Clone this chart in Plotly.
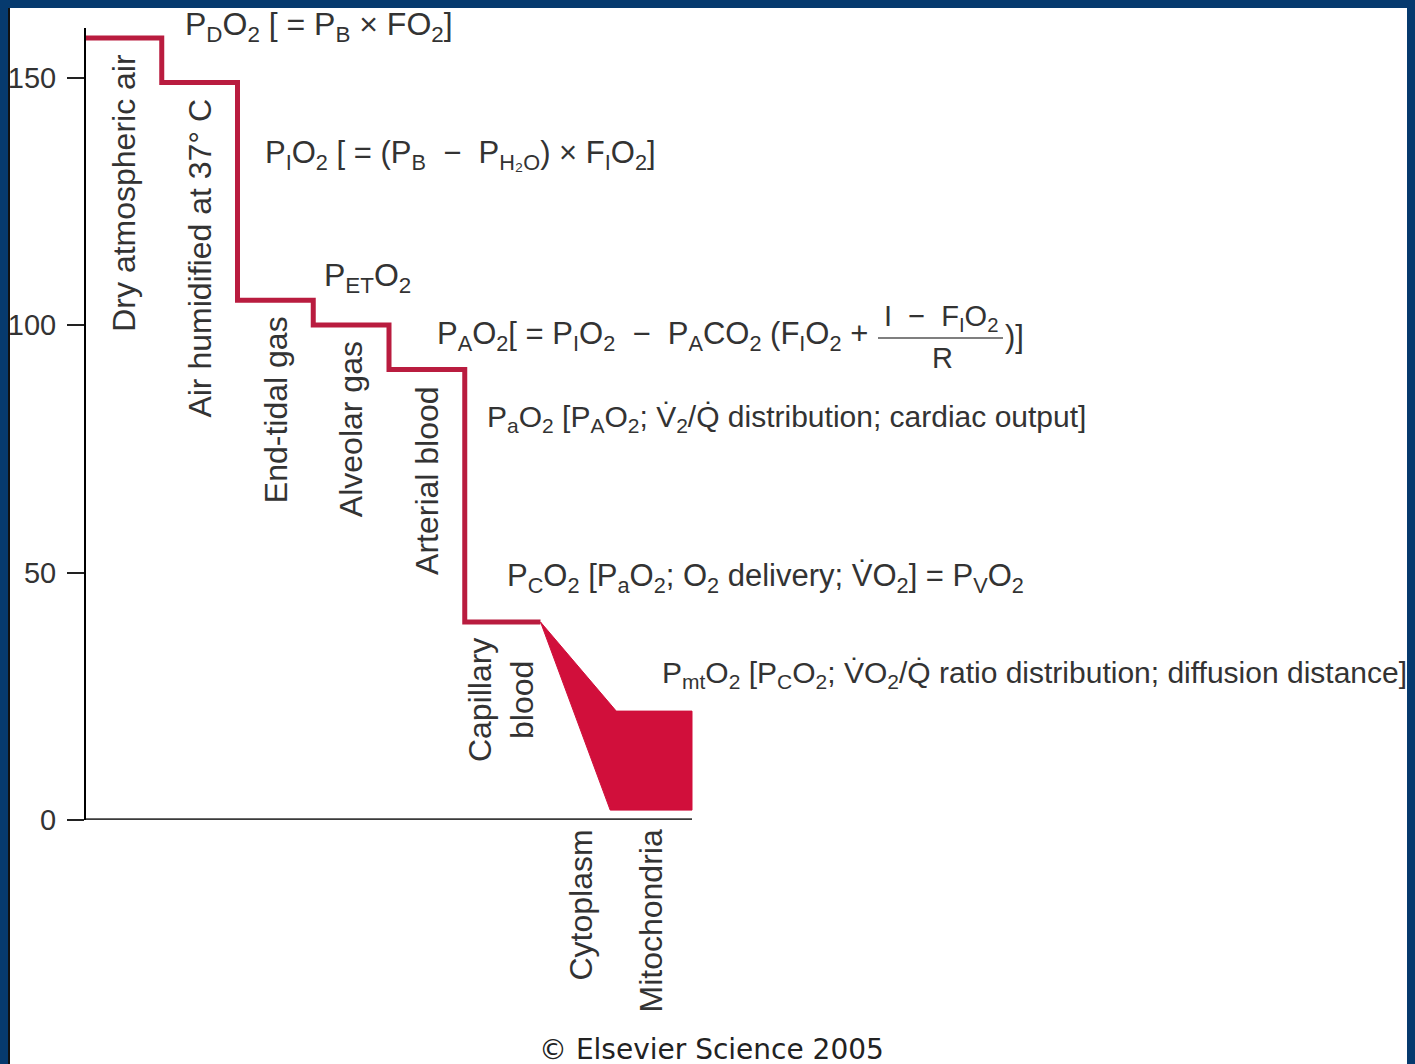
import plotly.graph_objects as go

# ---------------- data ----------------
stages = ["Dry atmospheric air", "Air humidified at 37° C", "End-tidal gas",
          "Alveolar gas", "Arterial blood", "Capillary<br>blood",
          "Cytoplasm", "Mitochondria"]
step_po2 = [158, 149, 105, 100, 91, 40]          # mmHg for first six stages
mito_high = 22
mito_low = 2
cyto_low_start = 6.92                           # where the lower edge reaches the floor
y_ticks = [0, 50, 100, 150]

formula_labels = [
    "P<sub>D</sub>O<sub>2</sub> [ = P<sub>B</sub> × FO<sub>2</sub>]",
    "P<sub>I</sub>O<sub>2</sub> [ = (P<sub>B</sub>  −  P<sub>H₂O</sub>) × F<sub>I</sub>O<sub>2</sub>]",
    "P<sub>ET</sub>O<sub>2</sub>",
    "P<sub>A</sub>O<sub>2</sub>[ = P<sub>I</sub>O<sub>2</sub>  −  P<sub>A</sub>CO<sub>2</sub> (F<sub>I</sub>O<sub>2</sub> +",
    "P<sub>a</sub>O<sub>2</sub> [P<sub>A</sub>O<sub>2</sub>; V\u0307<sub>2</sub>/Q\u0307 distribution; cardiac output]",
    "P<sub>C</sub>O<sub>2</sub> [P<sub>a</sub>O<sub>2</sub>; O<sub>2</sub> delivery; V\u0307O<sub>2</sub>] = P<sub>V</sub>O<sub>2</sub>",
    "P<sub>mt</sub>O<sub>2</sub> [P<sub>C</sub>O<sub>2</sub>; V\u0307O<sub>2</sub>/Q\u0307 ratio distribution; diffusion distance]",
]
frac_num = "I  −  F<sub>I</sub>O<sub>2</sub>"
frac_den = "R"
frac_close = ")]"
credit = "© Elsevier Science 2005"

# ---------------- geometry (page pixels; page has an 8px body margin) ----------------
OFF = 8
W, H = 1415 - OFF, 1064 - OFF
L, T = 86 - OFF, 20
ZERO_Y = 820 - OFF
B = H - ZERO_Y
R = 0
ppu_x = 75.75
ymax = 160
ppu_y = (ZERO_Y - T) / ymax
xmax = (W - L - R) / ppu_x


def ux(px):
    return (px - OFF - L) / ppu_x


def vy(py):
    return (ZERO_Y - (py - OFF)) / ppu_y


def paper_x(px):
    return (px - OFF - L) / (W - L - R)


def paper_y(py):
    return (ZERO_Y - (py - OFF)) / (ZERO_Y - T)


LINE = "#b91c3f"
FILL = "#d10f3b"
TXT = "#333333"
NAVY = "#063a6e"
FONT = "Liberation Sans, Arial, sans-serif"
ROT_FS = 32
label_fs = [32, 31, 32, 31, 30, 31, 30]

fig = go.Figure()

# capillary -> cytoplasm -> mitochondria filled region
n = len(step_po2)
poly_x = [n, n + 1, n + 2, n + 2, cyto_low_start, n]
poly_y = [step_po2[-1], mito_high, mito_high, mito_low, mito_low, step_po2[-1]]
fig.add_trace(go.Scatter(x=poly_x, y=poly_y, mode="lines", fill="toself",
                         fillcolor=FILL, line=dict(color=FILL, width=1),
                         hoverinfo="skip", showlegend=False))

# step line
sx = list(range(n + 1))
sy = step_po2 + [step_po2[-1]]
fig.add_trace(go.Scatter(x=sx, y=sy, mode="lines", line_shape="hv",
                         line=dict(color=LINE, width=5),
                         hoverinfo="skip", showlegend=False))

# x baseline
fig.add_shape(type="line", xref="x", yref="y", x0=0, x1=n + 2, y0=0, y1=0,
              line=dict(color="#3a3a3a", width=3.5))

# frame lines
fig.add_shape(type="line", xref="paper", yref="paper",
              x0=paper_x(9), x1=paper_x(9), y0=paper_y(1070), y1=paper_y(0),
              line=dict(color="#111111", width=2), layer="above")
fig.add_shape(type="line", xref="paper", yref="paper",
              x0=paper_x(1413), x1=paper_x(1413), y0=paper_y(1070), y1=paper_y(0),
              line=dict(color="#111111", width=2.5), layer="above")

# stage labels (rotated)
label_levels = step_po2 + [0, 0]
label_x = [i + 0.5 for i in range(len(stages))]
label_x[5] = 5.48
label_x[6] = ux(580)
label_x[7] = ux(650)
for i, s in enumerate(stages):
    fig.add_annotation(x=label_x[i], y=label_levels[i], xref="x", yref="y",
                       text=s, textangle=-90, showarrow=False,
                       xanchor="center", yanchor="top", yshift=-14 if i < 6 else -8,
                       font=dict(family=FONT, size=ROT_FS, color=TXT))

# formula labels
fpos = [(183, None), (263, 155), (322, 277), (435, 336), (485, 418), (505, 578), (660, 674)]
for i, (lab, (px, py)) in enumerate(zip(formula_labels, fpos)):
    if py is None:
        fig.add_annotation(x=ux(px), y=step_po2[0], xref="x", yref="y", text=lab,
                           showarrow=False, xanchor="left", yanchor="middle", yshift=11,
                           font=dict(family=FONT, size=label_fs[i], color=TXT))
    else:
        fig.add_annotation(x=ux(px), y=vy(py), xref="x", yref="y", text=lab,
                           showarrow=False, xanchor="left", yanchor="middle",
                           font=dict(family=FONT, size=label_fs[i], color=TXT))

# fraction
fig.add_annotation(x=ux(941), y=vy(318), xref="x", yref="y", text=frac_num, showarrow=False,
                   xanchor="center", yanchor="middle", font=dict(family=FONT, size=29, color=TXT))
fig.add_annotation(x=ux(942), y=vy(358), xref="x", yref="y", text=frac_den, showarrow=False,
                   xanchor="center", yanchor="middle", font=dict(family=FONT, size=29, color=TXT))
fig.add_shape(type="line", xref="x", yref="y", x0=ux(878), x1=ux(1003), y0=vy(338), y1=vy(338),
              line=dict(color="#555555", width=1.5))
fig.add_annotation(x=ux(1003), y=vy(336), xref="x", yref="y", text=frac_close, showarrow=False,
                   xanchor="left", yanchor="middle", font=dict(family=FONT, size=31, color=TXT))

# credit
fig.add_annotation(x=ux(711), y=paper_y(1049), xref="x", yref="paper",
                   text=credit, showarrow=False, xanchor="center", yanchor="middle",
                   font=dict(family="DejaVu Sans, Verdana, sans-serif", size=28, color="#222222"))

fig.update_layout(
    width=W, height=H,
    margin=dict(l=L, r=R, t=T, b=B, pad=0),
    paper_bgcolor="white", plot_bgcolor="white",
    showlegend=False,
    xaxis=dict(range=[0, xmax], visible=False, fixedrange=True),
    yaxis=dict(range=[0, ymax], tickvals=y_ticks, ticktext=[str(v) for v in y_ticks],
               showgrid=False, zeroline=False, showline=True, linecolor="black", linewidth=2,
               ticks="outside", ticklen=17, tickwidth=2, tickcolor="#222222",
               ticklabelstandoff=5,
               tickfont=dict(family=FONT, size=29, color=TXT), fixedrange=True),
)

fig.write_html("out.html",
               post_script="document.body.style.background='%s';" % NAVY)
